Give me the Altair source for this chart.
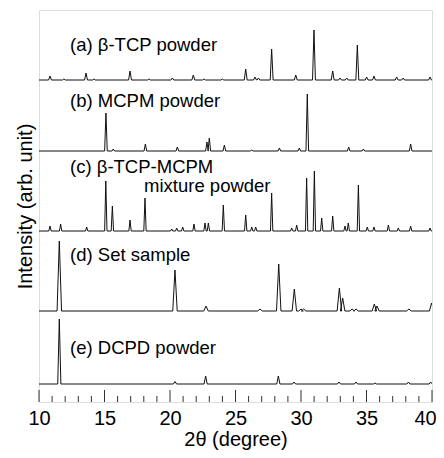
import altair as alt
import pandas as pd

# ---- data (2θ positions in degrees, peak heights in arbitrary units) ----
samples = ["a", "b", "c", "d", "e"]
labels = ["(a) β-TCP powder", "(b) MCPM powder", "(c) β-TCP-MCPM", "mixture powder",
          "(d) Set sample", "(e) DCPD powder"]

a_pos = [10.84, 11.9, 13.59, 14.2, 16.95, 18.4, 20.18, 21.78, 22.6, 24.0, 25.78, 26.49, 26.75,
         27.76, 29.6, 30.99, 32.42, 32.98, 33.49, 34.3, 35.01, 35.57, 37.3, 37.8, 39.85]
a_int = [4, 1, 7, 1, 9, 1, 2, 5, 1, 1, 11, 3, 2,
         31, 5, 50, 9, 2, 2, 35, 3, 4, 3, 2, 3]

b_pos = [15.11, 15.67, 18.12, 20.56, 22.82, 23.0, 24.15, 26.24, 28.35, 29.87, 30.48,
         33.64, 34.76, 38.37]
b_int = [38, 2, 7, 4, 9, 13, 6, 1, 3, 3, 57,
         4, 2, 7]

c_pos = [10.84, 11.65, 13.64, 15.1, 15.6, 16.95, 18.09, 20.13, 20.51, 20.97, 21.83, 22.67,
         22.93, 24.07, 25.78, 26.24, 26.54, 27.76, 29.29, 29.67, 30.43, 31.02, 31.58, 32.42,
         33.36, 33.61, 34.38, 35.06, 35.57, 36.67, 37.43, 38.37, 39.85]
c_int = [5, 7, 4, 50, 25, 11, 33, 2, 3, 4, 7, 8,
         8, 26, 16, 4, 4, 38, 3, 6, 53, 60, 13, 15,
         5, 8, 46, 4, 4, 6, 3, 5, 3]

d_pos = [11.55, 20.38, 22.75, 26.87, 28.3, 29.49, 30.0, 30.2, 32.93, 33.18, 33.9, 34.2,
         35.6, 35.8, 38.24, 39.97]
d_int = [70, 41, 5, 2, 47, 22, 2, 2, 23, 13, 2, 2,
         7, 5, 2, 8]

e_pos = [11.55, 20.38, 22.72, 28.27, 29.47, 32.9, 34.2, 35.65, 38.2, 39.9]
e_int = [65, 2.5, 8, 8, 2, 2, 2, 1, 2, 2]

major_ticks = [10, 15, 20, 25, 30, 35, 40]
minor_ticks = [11, 12, 13, 14, 16, 17, 18, 19, 21, 22, 23, 24, 26, 27, 28, 29,
               31, 32, 33, 34, 36, 37, 38, 39]

# ---- layout (vertical offsets of each pattern, label anchors, peak half-widths) ----
offsets = {"a": 322, "b": 251, "c": 171, "d": 91, "e": 18}
half_w = {"a": 0.11, "b": 0.1, "c": 0.09, "d": 0.17, "e": 0.12}
label_x = [12.37, 12.37, 12.37, 18.02, 12.37, 12.37]
label_y = [351, 295, 229, 210, 141, 48]

series = {"a": (a_pos, a_int), "b": (b_pos, b_int), "c": (c_pos, c_int),
          "d": (d_pos, d_int), "e": (e_pos, e_int)}

rows = []
for s in samples:
    pos, inten = series[s]
    off = offsets[s]
    w = half_w[s]
    pts = [(10.0, 0.0)]
    for p, h in sorted(zip(pos, inten)):
        pts += [(p - w, 0.0), (p, float(h)), (p + w, 0.0)]
    pts.append((40.0, 0.0))
    for i, (x, y) in enumerate(pts):
        rows.append({"sample": s, "idx": i, "theta": x, "y": y + off})
df = pd.DataFrame(rows)

lab_df = pd.DataFrame({"text": labels, "x": label_x, "y": label_y})
maj_df = pd.DataFrame({"x": major_ticks})
min_df = pd.DataFrame({"x": minor_ticks})

FONT = "Liberation Sans"

xscale = alt.Scale(domain=[10, 40], nice=False, zero=False)
yscale = alt.Scale(domain=[0, 392], nice=False, zero=False)

lines = alt.Chart(df).mark_line(color="#111111", strokeWidth=1, clip=True).encode(
    x=alt.X("theta:Q", scale=xscale,
            axis=alt.Axis(values=major_ticks, format="d", title="2θ (degree)",
                          labelFontSize=20, titleFontSize=20, labelFont=FONT, titleFont=FONT,
                          labelColor="#000000", titleColor="#000000", titleFontWeight="normal",
                          ticks=False, domain=False, grid=False, labelPadding=6,
                          titlePadding=1, labelFlush=False, labelOverlap=False,
                          labelOffset={"condition": {"test": "datum.value == 40", "value": -7},
                                       "value": 0})),
    y=alt.Y("y:Q", scale=yscale,
            axis=alt.Axis(title="Intensity (arb. unit)", labels=False, ticks=False,
                          domain=False, grid=False, titleFontSize=20, titleFont=FONT,
                          titleColor="#000000", titleFontWeight="normal", titlePadding=4)),
    detail="sample:N",
    order="idx:Q",
)

texts = alt.Chart(lab_df).mark_text(align="left", baseline="alphabetic", fontSize=18.5,
                                    font=FONT, color="#000000").encode(
    x=alt.X("x:Q", scale=xscale),
    y=alt.Y("y:Q", scale=yscale),
    text="text:N",
)

maj = alt.Chart(maj_df).mark_rule(color="#333333", strokeWidth=1).encode(
    x=alt.X("x:Q", scale=xscale),
    y=alt.value(392),
    y2=alt.value(380),
)
mnr = alt.Chart(min_df).mark_rule(color="#333333", strokeWidth=1).encode(
    x=alt.X("x:Q", scale=xscale),
    y=alt.value(392),
    y2=alt.value(386),
)

chart = alt.layer(lines, maj, mnr, texts).properties(
    width=393, height=392,
    autosize=alt.AutoSizeParams(type="none"),
    padding={"left": 31, "top": 2, "right": 4, "bottom": 48},
).configure_view(stroke="#444444", strokeWidth=1.3).configure(background="white")

chart.save("out.html", embed_options={"renderer": "svg", "actions": False})
